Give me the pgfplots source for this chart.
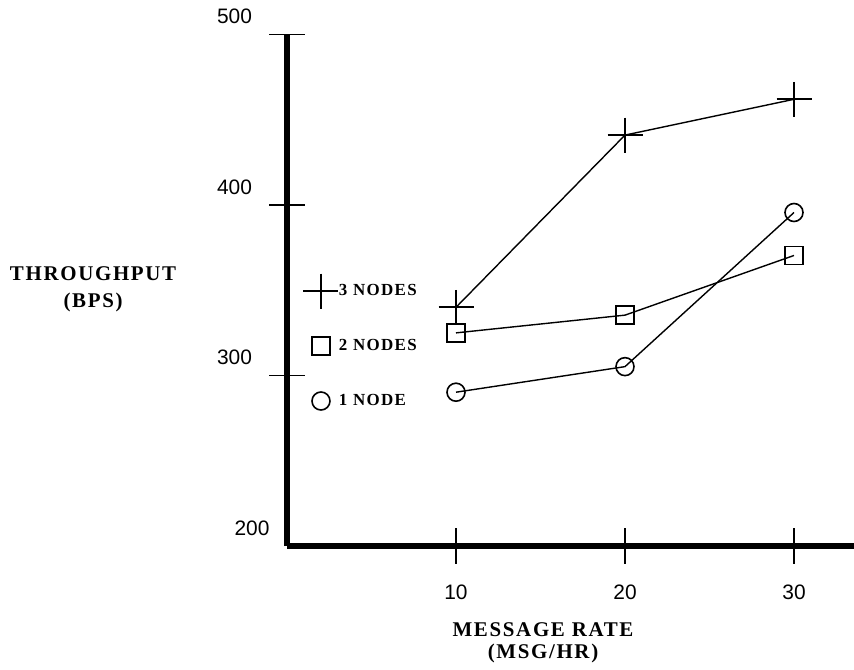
\documentclass[border=0pt]{standalone}
\usepackage{fontspec}
\setmainfont{Liberation Serif}
\setsansfont{Liberation Sans}
\newfontfamily\labfont[LetterSpace=8]{Liberation Serif}
\usepackage{pgfplots}
\pgfplotsset{compat=1.18}
\begin{document}
\begin{tikzpicture}
\path[use as bounding box] (-287bp,-124bp) rectangle (567bp,546bp);
\begin{axis}[
  at={(0,0)}, anchor=south west,
  scale only axis, width=567bp, height=511.5bp,
  xmin=0, xmax=33.55, ymin=200, ymax=500,
  clip=false,
  axis x line=bottom, axis y line=left,
  axis line style={-, line width=5.5bp},
  xtick={10,20,30}, ytick={300,400,500},
  extra y ticks={200}, extra y tick style={major tick length=0pt},
  tick align=center, major tick length=35bp,
  tick style={line width=1.6bp, black},
  /pgf/number format/assume math mode=true,
  ticklabel style={font=\sffamily\fontsize{21}{21}\selectfont},
  yticklabel style={anchor=east, xshift=-14bp, yshift=18bp},
  xticklabel style={anchor=north, yshift=-18bp},
  xlabel={MESSAGE RATE\\(MSG/HR)},
  xlabel style={at={(axis description cs:0.4515,-0.1887)}, anchor=center, align=center,
    font=\labfont\bfseries\fontsize{21}{22}\selectfont},
  ylabel={THROUGHPUT\\(BPS)},
  ylabel style={rotate=-90, at={(axis description cs:-0.342,0.5025)}, anchor=center, align=center,
    font=\labfont\bfseries\fontsize{21}{27}\selectfont},
  legend image code/.code={\path[draw=none, fill=none] (-18bp,-18bp) rectangle (18bp,18bp);
    \draw[#1,only marks] plot coordinates {(0bp,0bp)};},
  legend style={draw=none, fill=none, inner sep=0pt, outer sep=0pt,
    at={(0.0282,0.5337)}, anchor=north west, row sep=19bp,
    nodes={inner sep=0pt, outer sep=0pt},
    font=\labfont\bfseries\fontsize{17}{17}\selectfont},
  legend cell align=left,
]
\addplot[black, line width=1.4bp, mark=+, mark size=17.5bp, mark options={line width=1.7bp}]
  coordinates {(10,340) (20,441) (30,462)};
\addlegendentry{3 NODES}
\addplot[black, line width=1.4bp, mark=square, mark size=9bp, mark options={line width=1.6bp}]
  coordinates {(10,325) (20,335.4) (30,370.4)};
\addlegendentry{2 NODES}
\addplot[black, line width=1.4bp, mark=o, mark size=9bp, mark options={line width=1.6bp}]
  coordinates {(10,290.2) (20,305.2) (30,395.6)};
\addlegendentry{1 NODE}
\end{axis}
\end{tikzpicture}
\end{document}
